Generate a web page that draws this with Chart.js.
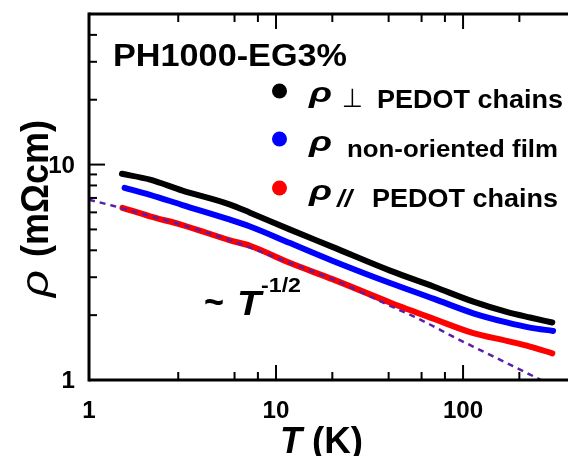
<!DOCTYPE html>
<html>
<head>
<meta charset="utf-8">
<script src="https://cdn.jsdelivr.net/npm/chart.js@4.4.1/dist/chart.umd.min.js"></script>
<style>
html,body{margin:0;padding:0;background:#fff;overflow:hidden}
#grafico{display:block}
</style>
</head>
<body>
<canvas id="grafico" width="568" height="456"></canvas>
<script>
// Valores: T (K) y rho (mOhm cm)
const tempPerp = [1.5, 2.12, 3.16, 5.68, 7.26, 11.9, 20, 40.7, 70, 113.5, 171, 228, 300];
const rhoPerp  = [9.06, 8.51, 7.57, 6.52, 5.98, 4.99, 4.15, 3.22, 2.71, 2.31, 2.07, 1.95, 1.85];

const tempNo = [1.55, 2.12, 3.16, 5.68, 7.26, 11.9, 20, 40.7, 70, 113.5, 171, 228, 303];
const rhoNo  = [7.80, 7.24, 6.49, 5.55, 5.16, 4.32, 3.58, 2.82, 2.38, 2.04, 1.85, 1.75, 1.69];

const tempPar = [1.51, 2.12, 3.16, 5.68, 7.26, 11.9, 20, 40.7, 70, 113.5, 171, 228, 300];
const rhoPar  = [6.30, 5.75, 5.24, 4.45, 4.20, 3.49, 2.94, 2.29, 1.92, 1.65, 1.52, 1.43, 1.33];

// ajuste ~ T^-1/2 (línea discontinua)
const tempFit = [1, 1.34, 2.12, 3.16, 5.68, 11.9, 20, 40.7, 54, 66.5, 88.4, 113, 144, 185, 228, 270];
const rhoFit  = [6.87, 6.44, 5.77, 5.24, 4.45, 3.49, 2.94, 2.21, 1.98, 1.81, 1.59, 1.43, 1.29, 1.16, 1.06, 0.985];

const xLabels = ['1', '10', '100'];
const yLabels = ['1', '10'];

const FONT = '"Liberation Sans", Arial, sans-serif';

function puntos(xs, ys){
  return xs.map((t, i) => ({ x: t, y: ys[i] }));
}

// texto con estiramiento horizontal opcional (w = ancho objetivo)
function texto(ctx, str, x, y, font, opts){
  opts = opts || {};
  ctx.font = font;
  const w = ctx.measureText(str).width;
  const sx = opts.w ? opts.w / w : (opts.sx || 1);
  let dx = 0;
  if (opts.align === 'center') dx = -w / 2;
  else if (opts.align === 'right') dx = -w;
  ctx.save();
  ctx.translate(x, y);
  ctx.scale(sx, 1);
  ctx.textAlign = 'left';
  ctx.textBaseline = 'alphabetic';
  ctx.fillStyle = '#000';
  ctx.fillText(str, dx, 0);
  ctx.restore();
}

function mantisaEntera(v){
  const m = v / Math.pow(10, Math.floor(Math.log10(v) + 1e-9));
  return Math.abs(m - Math.round(m)) < 1e-6;
}
function esDecada(v){
  const l = Math.log10(v);
  return Math.abs(l - Math.round(l)) < 1e-6;
}

const marco = {
  id: 'marco',
  afterDraw(chart){
    const ctx = chart.ctx;
    const a = chart.chartArea;
    const sx = chart.scales.x, sy = chart.scales.y;
    const linea = (x1, y1, x2, y2) => { ctx.beginPath(); ctx.moveTo(x1, y1); ctx.lineTo(x2, y2); ctx.stroke(); };

    ctx.save();
    ctx.strokeStyle = '#000';
    ctx.lineCap = 'butt';

    // marcas hacia dentro
    ctx.lineWidth = 2;
    sx.ticks.forEach(t => {
      const v = t.value;
      if (!mantisaEntera(v)) return;
      const px = sx.getPixelForValue(v);
      if (px <= a.left + 1 || px >= a.right - 1) return;
      const L = esDecada(v) ? 15 : 8;
      linea(px, a.bottom, px, a.bottom - L);
      linea(px, a.top, px, a.top + L);
    });
    sy.ticks.forEach(t => {
      const v = t.value;
      if (!mantisaEntera(v)) return;
      const py = sy.getPixelForValue(v);
      if (py <= a.top + 1 || py >= a.bottom - 1) return;
      const L = esDecada(v) ? 16 : 8;
      linea(a.left, py, a.left + L, py);
    });

    // marco
    ctx.lineWidth = 3;
    linea(a.left, a.top - 1.5, a.left, a.bottom + 1.5);
    linea(a.left, a.top, a.right, a.top);
    linea(a.left, a.bottom, a.right, a.bottom);

    // etiquetas de los ejes
    const fTick = 'bold 23px ' + FONT;
    xLabels.forEach(s => {
      const px = sx.getPixelForValue(Number(s));
      texto(ctx, s, px, 418, fTick, { align: 'center', sx: 1.05 });
    });
    yLabels.forEach(s => {
      const py = sy.getPixelForValue(Number(s));
      texto(ctx, s, 75, py + 8, fTick, { align: 'right', sx: 1.05 });
    });

    // títulos de ejes
    texto(ctx, 'T', 280, 453, 'italic bold 36px ' + FONT);
    texto(ctx, '(K)', 312, 453, 'bold 36px ' + FONT, { w: 51 });

    ctx.save();
    ctx.translate(48, 297);
    ctx.rotate(-Math.PI / 2);
    texto(ctx, '\u03C1', 0, 0, 'italic 38px ' + FONT, { w: 27 });
    texto(ctx, '(m\u03A9cm)', 40, 0, 'bold 38px ' + FONT, { w: 137 });
    ctx.restore();

    // título y leyenda
    texto(ctx, 'PH1000-EG3%', 113, 66, 'bold 32px ' + FONT, { w: 234 });

    const lineas = [
      { color: '#000000', yDot: 91 },
      { color: '#0000ff', yDot: 139 },
      { color: '#ff0000', yDot: 188 }
    ];
    lineas.forEach(l => {
      ctx.beginPath();
      ctx.fillStyle = l.color;
      ctx.arc(279.5, l.yDot, 7.5, 0, Math.PI * 2);
      ctx.fill();
    });
    const fRho = 'italic bold 28px ' + FONT;
    texto(ctx, '\u03C1', 309, 102, fRho, { w: 23 });
    texto(ctx, '\u22A5', 342, 107, '26px "DejaVu Sans"', { w: 21 });
    texto(ctx, 'PEDOT chains', 377, 108, 'bold 25px ' + FONT, { w: 186 });

    texto(ctx, '\u03C1', 309, 151, fRho, { w: 23 });
    texto(ctx, 'non-oriented film', 347, 157, 'bold 24px ' + FONT, { w: 211 });

    texto(ctx, '\u03C1', 309, 200, fRho, { w: 23 });
    texto(ctx, '//', 337, 207, 'italic bold 24px ' + FONT, { w: 15 });
    texto(ctx, 'PEDOT chains', 372, 207, 'bold 25px ' + FONT, { w: 186 });

    // anotación ~ T^-1/2
    texto(ctx, '~', 204, 315, 'bold 38px ' + FONT, { w: 20 });
    texto(ctx, 'T', 237, 315, 'italic bold 35px ' + FONT, { w: 24 });
    texto(ctx, '-1/2', 261, 292, 'bold 20px ' + FONT, { w: 40 });

    ctx.restore();
  }
};

function serie(xs, ys, color, ancho, extra){
  return Object.assign({
    data: puntos(xs, ys),
    borderColor: color,
    backgroundColor: color,
    borderWidth: ancho,
    pointRadius: 0,
    borderCapStyle: 'round',
    cubicInterpolationMode: 'monotone',
    fill: false
  }, extra || {});
}

function dibujar(){
  const ctx = document.getElementById('grafico').getContext('2d');
  new Chart(ctx, {
    type: 'line',
    data: {
      datasets: [
        serie(tempFit, rhoFit, '#5a1fa8', 2.5, { borderDash: [6, 5], borderCapStyle: 'butt' }),
        serie(tempPar, rhoPar, '#ff0000', 6),
        serie(tempNo, rhoNo, '#0000ff', 6),
        serie(tempPerp, rhoPerp, '#000000', 6)
      ]
    },
    options: {
      responsive: false,
      animation: false,
      devicePixelRatio: 1,
      layout: { padding: { left: 89, top: 14, right: 0, bottom: 76 } },
      plugins: { legend: { display: false }, tooltip: { enabled: false } },
      events: [],
      scales: {
        x: { type: 'logarithmic', min: 1, max: 364, display: false },
        y: { type: 'logarithmic', min: 1, max: 50, display: false }
      }
    },
    plugins: [marco]
  });
}

window.addEventListener('DOMContentLoaded', dibujar);
</script>
</body>
</html>
